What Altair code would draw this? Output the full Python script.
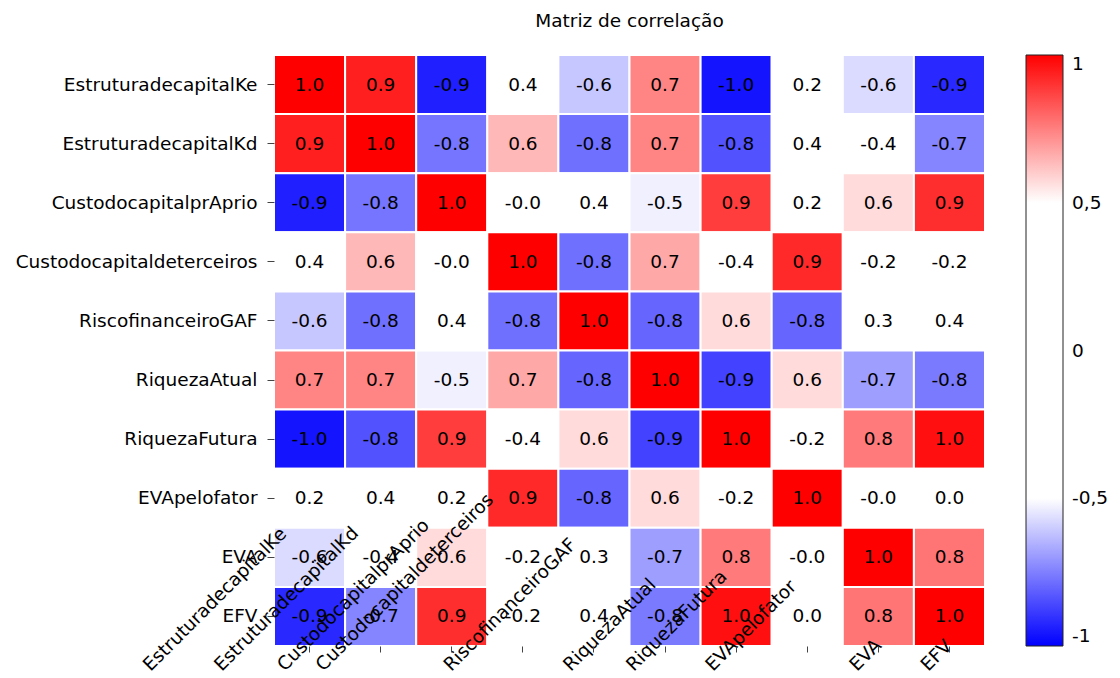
import altair as alt
import pandas as pd

labels = ["EstruturadecapitalKe", "EstruturadecapitalKd", "CustodocapitalprAprio",
          "Custodocapitaldeterceiros", "RiscofinanceiroGAF", "RiquezaAtual",
          "RiquezaFutura", "EVApelofator", "EVA", "EFV"]

r_ke = [1.00, 0.94, -0.94, 0.40, -0.61, 0.74, -0.96, 0.20, -0.57, -0.92]
r_kd = [0.94, 1.00, -0.77, 0.64, -0.78, 0.74, -0.84, 0.40, -0.40, -0.74]
r_cpa = [-0.94, -0.77, 1.00, -0.01, 0.40, -0.53, 0.88, 0.20, 0.57, 0.91]
r_cdt = [0.40, 0.64, -0.01, 1.00, -0.78, 0.67, -0.40, 0.92, -0.20, -0.20]
r_gaf = [-0.61, -0.78, 0.40, -0.78, 1.00, -0.80, 0.57, -0.80, 0.30, 0.40]
r_ra = [0.74, 0.74, -0.53, 0.67, -0.80, 1.00, -0.87, 0.57, -0.69, -0.76]
r_rf = [-0.96, -0.84, 0.88, -0.40, 0.57, -0.87, 1.00, -0.20, 0.76, 0.97]
r_evapf = [0.20, 0.40, 0.20, 0.92, -0.80, 0.57, -0.20, 1.00, -0.01, 0.01]
r_eva = [-0.57, -0.40, 0.57, -0.20, 0.30, -0.69, 0.76, -0.01, 1.00, 0.77]
r_efv = [-0.92, -0.74, 0.91, -0.20, 0.40, -0.76, 0.97, 0.01, 0.77, 1.00]

matrix = [r_ke, r_kd, r_cpa, r_cdt, r_gaf, r_ra, r_rf, r_evapf, r_eva, r_efv]

legend_values = [-1, -0.5, 0, 0.5, 1]
title_text = "Matriz de correlação"

FONT = "DejaVu Sans"
FS = 18.5
W, H = 711, 591
n = len(labels)

recs = []
for i, vals in enumerate(matrix):
    for j, v in enumerate(vals):
        recs.append({"row": labels[i], "col": labels[j], "r": v})
df = pd.DataFrame(recs)
lab_df = pd.DataFrame({"label": labels, "idx": list(range(n))})

color_scale = alt.Scale(domain=[-1, -0.5, 0.5, 1],
                        range=["#0000ff", "#ffffff", "#ffffff", "#ff0000"],
                        interpolate="rgb")

base = alt.Chart(df).encode(
    x=alt.X("col:N", sort=labels, scale=alt.Scale(paddingInner=0, paddingOuter=0),
            axis=alt.Axis(labels=False, ticks=True, tickSize=6, domain=False,
                          title=None, tickColor="#444", tickWidth=1)),
    y=alt.Y("row:N", sort=labels, scale=alt.Scale(paddingInner=0, paddingOuter=0),
            axis=alt.Axis(title=None, domain=False, tickSize=7, labelPadding=10,
                          labelFontSize=FS, labelFont=FONT, labelColor="black",
                          tickColor="#444", labelLimit=400)),
)

heat = base.mark_rect(stroke="white", strokeWidth=2).encode(
    color=alt.Color("r:Q", scale=color_scale,
                    legend=alt.Legend(title=None, orient="none", legendX=752, legendY=0,
                                      direction="vertical", gradientLength=H,
                                      gradientThickness=37, gradientStrokeColor="#222",
                                      gradientStrokeWidth=1, values=legend_values,
                                      labelFontSize=FS, labelFont=FONT, labelOffset=9,
                                      labelBaseline="middle",
                                      labelColor="black", labelOverlap=False,
                                      labelExpr="datum.value == 0 ? '0' : (datum.value < 0 ? '-' : '') + replace(toString(abs(datum.value)), '.', ',')"))
)

vals = base.transform_calculate(
    txt="(datum.r < 0 ? '-' : '') + format(abs(datum.r), '.1f')"
).mark_text(fontSize=FS, font=FONT, color="black").encode(text="txt:N")

CHAR_W = 8.1
BASE_SHIFT = -3.0
xlab = alt.Chart(lab_df).transform_calculate(
    pos=f"datum.idx + 0.5 - ({BASE_SHIFT} + {CHAR_W} * length(datum.label)) / {W / n}"
).mark_text(angle=315, align="left", baseline="alphabetic", fontSize=FS,
            font=FONT, color="black").encode(
    x=alt.X("pos:Q", scale=alt.Scale(domain=[0, n], nice=False, zero=False), axis=None),
    y=alt.value(617),
    text="label:N",
)

chart = alt.layer(alt.layer(heat, vals), xlab).resolve_scale(x="independent").properties(
    width=W, height=H,
    title=alt.TitleParams(title_text, fontSize=FS, font=FONT, fontWeight="normal",
                          anchor="middle", offset=24, color="black"),
    padding={"left": 266, "top": 47, "right": 127, "bottom": 32},
    autosize="none",
).configure_view(stroke="#444", strokeWidth=1.5)

chart.save("out.html", embed_options={"renderer": "svg", "actions": False})
